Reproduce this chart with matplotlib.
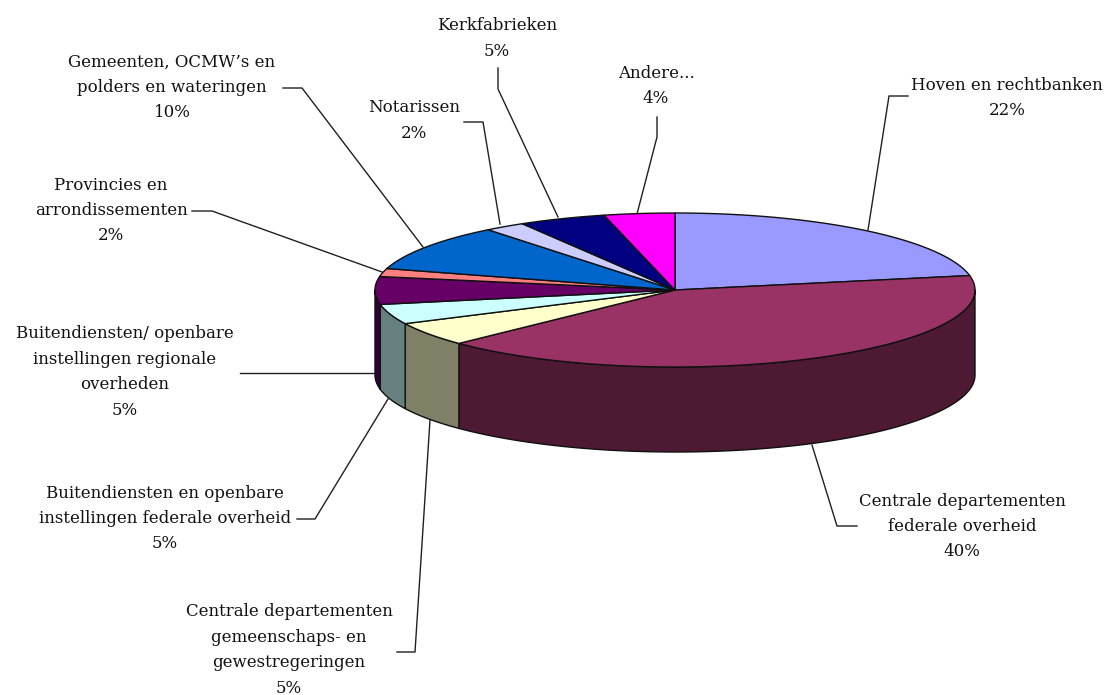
import numpy as np
import matplotlib
matplotlib.use("Agg")
import matplotlib.pyplot as plt

labels = ["Hoven en rechtbanken\n22%",
          "Centrale departementen\nfederale overheid\n40%",
          "Centrale departementen\ngemeenschaps- en\ngewestregeringen\n5%",
          "Buitendiensten en openbare\ninstellingen federale overheid\n5%",
          "Buitendiensten/ openbare\ninstellingen regionale\noverheden\n5%",
          "Provincies en\narrondissementen\n2%",
          "Gemeenten, OCMW\u2019s en\npolders en wateringen\n10%",
          "Notarissen\n2%",
          "Kerkfabrieken\n5%",
          "Andere...\n4%"]
values = [22, 40.8, 5, 4.2, 5.8, 1.7, 9.8, 2.2, 4.7, 3.8]
colors = ["#9999FF", "#993366", "#FFFFCC", "#CCFFFF", "#660066",
          "#FF8080", "#0066CC", "#CCCCFF", "#000080", "#FF00FF"]
side_colors = ["#4D4D80", "#4D1933", "#808066", "#668080", "#330033",
               "#804040", "#003366", "#666680", "#000040", "#800080"]
label_x = [1007, 962, 289, 165, 125, 111, 172, 414, 497, 656]
label_y = [85, 501, 612, 493, 334, 185, 62, 108, 26, 73]
leader_x = [[868, 889, 908], [812, 837, 857], [430, 415, 397], [388, 315, 297],
            [375, 375, 240], [382, 212, 192], [423, 302, 283], [500, 483, 464],
            [558, 498, 498], [637, 657, 657]]
leader_y = [[230, 96, 96], [445, 526, 526], [420, 652, 652], [399, 519, 519],
            [373, 373, 373], [272, 211, 211], [247, 88, 88], [224, 122, 122],
            [217, 89, 68], [214, 137, 117]]

CX, CY, RX, RY, DEPTH = 675, 290, 300, 77, 85
FONT = "DejaVu Serif"
LINE = 25.4

fig = plt.figure(figsize=(11.09, 6.95), dpi=100)
ax = fig.add_axes([0, 0, 1, 1])
ax.set_xlim(0, 1109)
ax.set_ylim(695, 0)
ax.axis("off")

def rim(a, b):
    n = max(2, int((b - a) * 2) + 2)
    t = np.radians(np.linspace(a, b, n))
    return CX + RX * np.sin(t), CY - RY * np.cos(t)

edges = np.concatenate([[0], np.cumsum(values)]) * 360 / sum(values)
EC = "#101010"
# side walls: visible only on the front half (90..270 deg) of the rim
for i in range(len(values)):
    a, b = max(edges[i], 90), min(edges[i + 1], 270)
    if b <= a:
        continue
    x, y = rim(a, b)
    ax.fill(np.r_[x, x[::-1]], np.r_[y, y[::-1] + DEPTH], fc=side_colors[i],
            ec=EC, lw=1.0, joinstyle="round", zorder=2)
# top faces
for i in range(len(values)):
    x, y = rim(edges[i], edges[i + 1])
    ax.fill(np.r_[CX, x], np.r_[CY, y], fc=colors[i], ec=EC, lw=1.0,
            joinstyle="round", zorder=3)
# leaders and labels
for lx, ly in zip(leader_x, leader_y):
    ax.plot(lx, ly, color="#202020", lw=1.0, zorder=1)
for text, x, y in zip(labels, label_x, label_y):
    for j, line in enumerate(text.split("\n")):
        ax.text(x, y + j * LINE, line, ha="center", va="center",
                family=FONT, fontsize=12.0, color="#111111", zorder=4)

fig.savefig("out.png", dpi=100, facecolor="white")
